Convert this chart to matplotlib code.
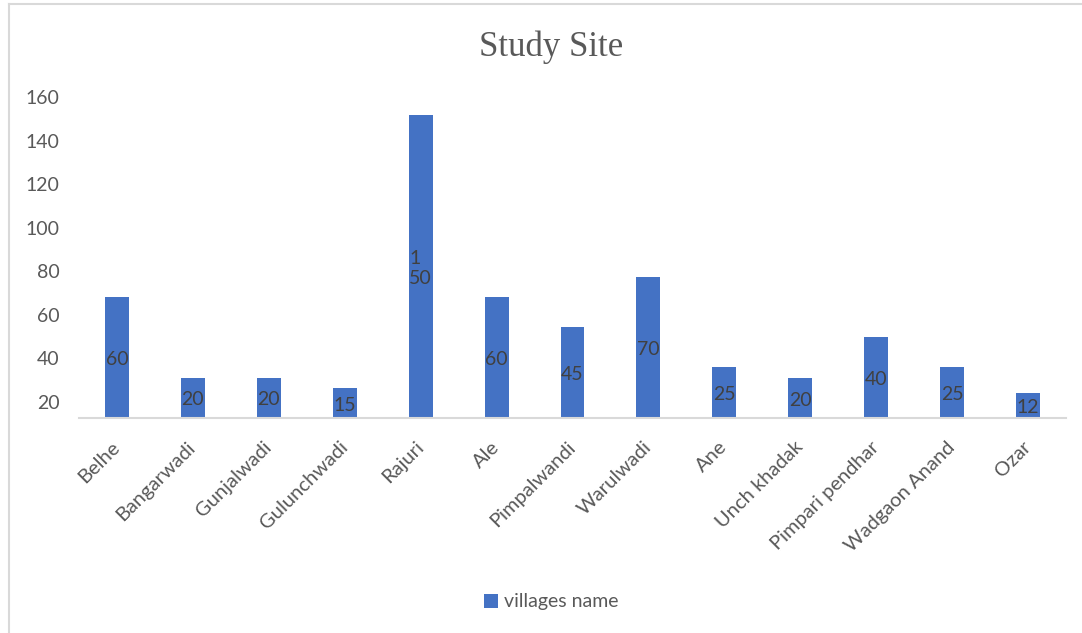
import matplotlib.pyplot as plt
from matplotlib.lines import Line2D

villages = ['Belhe', 'Bangarwadi', 'Gunjalwadi', 'Gulunchwadi', 'Rajuri', 'Ale',
            'Pimpalwandi', 'Warulwadi', 'Ane', 'Unch khadak', 'Pimpari pendhar',
            'Wadgaon Anand', 'Ozar']
# bar heights as drawn against the y axis
heights = [68.3, 31.2, 31.2, 26.5, 151.7, 68.3, 54.4, 77.4, 36, 31, 49.8, 36, 24.3]
# data labels printed on the bars
labels = ['60', '20', '20', '15', '1\n50', '60', '45', '70', '25', '20', '40', '25', '12']
yticks = [20, 40, 60, 80, 100, 120, 140, 160]

blue = '#4472C4'
gray = '#595959'
plt.rcParams['font.family'] = ['Lato', 'DejaVu Sans']

fig = plt.figure(figsize=(10.82, 6.33), dpi=100)
ax = fig.add_axes([79/1082, 1-418/633, (1066-79)/1082, (418-90)/633])

x = list(range(len(villages)))
bars = ax.bar(x, heights, width=0.316, color=blue, label='villages name', zorder=2)

lo = 12.66
for b, h, t in zip(bars, heights, labels):
    ax.text(b.get_x() + b.get_width()/2, (lo + h)/2 - 1, t, ha='center', va='center',
            fontsize=14, color='#404040', multialignment='left', zorder=3)

ax.set_ylim(lo, 163.2)
ax.set_xlim(-0.5, len(villages) - 0.5)
ax.set_yticks(yticks)
ax.set_xticks(x)
ax.set_xticklabels(villages, rotation=45, ha='right', va='center', rotation_mode='anchor',
                   fontsize=14.5, color=gray)
ax.tick_params(axis='y', length=0, labelsize=14, labelcolor=gray, pad=14)
ax.tick_params(axis='x', length=0, pad=19)
for s in ['top', 'right', 'left']:
    ax.spines[s].set_visible(False)
ax.spines['bottom'].set_color('#d9d9d9')
ax.spines['bottom'].set_linewidth(1.5)

fig.text(551/1082, 1-47/633, 'Study Site', ha='center', va='center',
         fontsize=25, color=gray, family='Liberation Serif')

fig.legend(handles=[bars], labels=['villages name'], loc='center',
           bbox_to_anchor=(551/1082, 1-602/633), frameon=False, fontsize=14,
           labelcolor=gray, handlelength=0.75, handleheight=0.75, handletextpad=0.3)

# chart frame
fig.add_artist(Line2D([9/1082, 9/1082], [0, 1-4/633], color='#d9d9d9', lw=1.5))
fig.add_artist(Line2D([9/1082, 1], [1-4/633, 1-4/633], color='#d9d9d9', lw=1.5))

fig.savefig('out.png', dpi=100)
